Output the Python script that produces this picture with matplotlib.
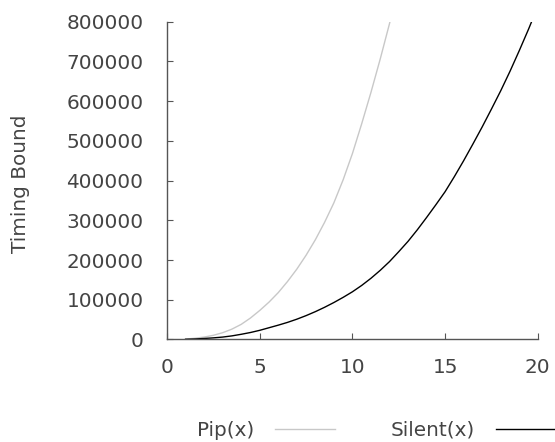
import matplotlib
matplotlib.use("Agg")
import matplotlib.pyplot as plt

pip_x = [1, 1.5, 2, 2.5, 3, 3.5, 4, 4.5, 5, 5.5, 6, 6.5, 7, 7.5, 8, 8.5, 9,
         9.5, 10, 10.5, 11, 11.5, 12, 12.5]
pip_y = [1000, 3000, 6000, 10500, 17000, 26000, 38000, 54000, 73000, 94000,
         118000, 146000, 177000, 212000, 251000, 295000, 344000, 402000,
         468000, 543000, 622000, 706000, 795000, 890000]

silent_x = [1, 1.5, 2, 2.5, 3, 3.5, 4, 4.5, 5, 5.5, 6, 6.5, 7, 7.5, 8, 8.5, 9,
            9.5, 10, 10.5, 11, 11.5, 12, 12.5, 13, 13.5, 14, 14.5, 15, 15.5,
            16, 16.5, 17, 17.5, 18, 18.5, 19, 19.5, 20]
silent_y = [500, 1200, 2500, 4000, 6000, 9000, 13000, 17500, 23000, 29500,
            36000, 43000, 51000, 60000, 70000, 81000, 93000, 106000, 120000,
            136000, 154000, 174000, 196000, 221000, 247000, 276000, 307000,
            339000, 372000, 410000, 450000, 492000, 535000, 580000, 626000,
            675000, 727000, 781000, 838000]

xticks = [0, 5, 10, 15, 20]
yticks = [0, 100000, 200000, 300000, 400000, 500000, 600000, 700000, 800000]

TXT = '#444444'
FS = 14.4
plt.rcParams['font.family'] = ['DejaVu Sans']
fig = plt.figure(figsize=(5.55, 4.42), dpi=100)
ax = fig.add_axes([0.301, 0.232, 0.668, 0.719])

ax.plot(pip_x, pip_y, color='#c8c8c8', lw=1.0, label='Pip(x)')
ax.plot(silent_x, silent_y, color='black', lw=1.0, label='Silent(x)')

ax.set_xlim(0, 20)
ax.set_ylim(0, 800000)
ax.set_xticks(xticks)
ax.set_yticks(yticks)
ax.set_yticklabels([str(v) for v in yticks])
for s in ['top', 'right']:
    ax.spines[s].set_visible(False)
for s in ['left', 'bottom']:
    ax.spines[s].set_color('#555555')
    ax.spines[s].set_linewidth(1.0)
ax.tick_params(direction='in', length=4, color='#555555', labelsize=FS,
               labelcolor=TXT)
ax.tick_params(axis='x', pad=13)
ax.tick_params(axis='y', pad=17)
ax.set_ylabel('Timing Bound', fontsize=FS, color=TXT)
ax.yaxis.set_label_coords(-0.37, 0.489)

leg = fig.legend(loc='center', bbox_to_anchor=(0.678, 0.027), ncol=2,
                 frameon=False, markerfirst=False, fontsize=FS,
                 handlelength=3.0, handletextpad=1.05, columnspacing=2.75)
for t in leg.get_texts():
    t.set_color(TXT)

fig.savefig('out.png', dpi=100)
